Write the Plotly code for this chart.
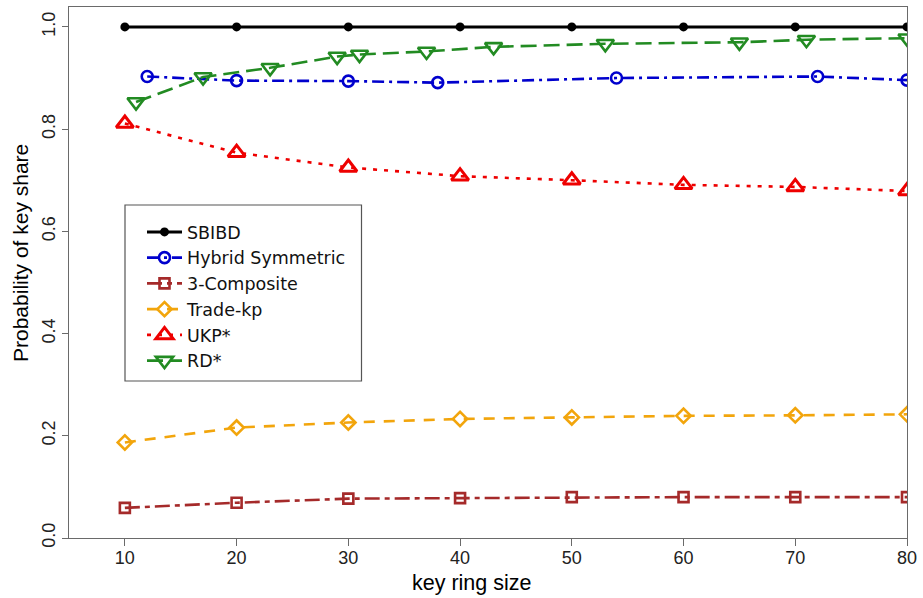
import plotly.graph_objects as go

# ---- data ----
key_ring_size = [10, 20, 30, 40, 50, 60, 70, 80]
sbibd = [1.0, 1.0, 1.0, 1.0, 1.0, 1.0, 1.0, 1.0]

hybrid_x = [12, 20, 30, 38, 54, 72, 80]
hybrid_y = [0.903, 0.895, 0.894, 0.891, 0.900, 0.903, 0.896]

composite3 = [0.059, 0.069, 0.077, 0.078, 0.080, 0.080, 0.080, 0.080]
trade_kp = [0.187, 0.216, 0.226, 0.233, 0.236, 0.239, 0.240, 0.242]
ukp = [0.811, 0.754, 0.725, 0.708, 0.700, 0.691, 0.687, 0.679]

rd_x = [11, 17, 23, 29, 31, 37, 43, 53, 65, 71, 80]
rd_y = [0.853, 0.902, 0.920, 0.942, 0.946, 0.952, 0.961, 0.967, 0.970, 0.975, 0.978]

x_ticks = [10, 20, 30, 40, 50, 60, 70, 80]
y_ticks = [0.0, 0.2, 0.4, 0.6, 0.8, 1.0]
y_tick_labels = ["0.0", "0.2", "0.4", "0.6", "0.8", "1.0"]

FONT = "Liberation Sans, Arial, sans-serif"
LEG_FONT = "DejaVu Sans, Verdana, sans-serif"
LW = 2.6

fig = go.Figure()

fig.add_trace(go.Scatter(
    x=key_ring_size, y=sbibd, name="SBIBD", mode="lines+markers",
    line=dict(color="black", width=LW + 0.4),
    marker=dict(symbol="circle", size=9, color="black")))

fig.add_trace(go.Scatter(
    x=hybrid_x, y=hybrid_y, name="Hybrid Symmetric", mode="lines+markers",
    line=dict(color="#0000CD", width=LW, dash="12px,5px,3px,5px"),
    marker=dict(symbol="circle-open", size=11, color="#0000CD",
                line=dict(width=2.6, color="#0000CD"))))

fig.add_trace(go.Scatter(
    x=key_ring_size, y=composite3, name="3-Composite", mode="lines+markers",
    line=dict(color="#A52A2A", width=LW, dash="15px,5px,5px,5px"),
    marker=dict(symbol="square-open", size=10, color="#A52A2A",
                line=dict(width=2.6, color="#A52A2A"))))

fig.add_trace(go.Scatter(
    x=key_ring_size, y=trade_kp, name="Trade-kp", mode="lines+markers",
    line=dict(color="#F2A50C", width=LW, dash="11px,9px"),
    marker=dict(symbol="diamond-open", size=11, color="#F2A50C",
                line=dict(width=2.6, color="#F2A50C"))))

fig.add_trace(go.Scatter(
    x=key_ring_size, y=ukp, name="UKP*", mode="lines+markers",
    line=dict(color="#EE0000", width=LW, dash="4px,7px"),
    marker=dict(symbol="triangle-up-open", size=15, color="#EE0000",
                line=dict(width=3, color="#EE0000"))))

fig.add_trace(go.Scatter(
    x=rd_x, y=rd_y, name="RD*", mode="lines+markers",
    line=dict(color="#228B22", width=LW, dash="16px,7px"),
    marker=dict(symbol="triangle-down-open", size=15, color="#228B22",
                line=dict(width=2.6, color="#228B22"))))

AX = "#6a6a6a"
fig.update_xaxes(
    range=[5, 80], tickmode="array", tickvals=x_ticks,
    showline=True, mirror=True, linecolor=AX, linewidth=1.3,
    ticks="outside", ticklen=7, tickwidth=1.3, tickcolor=AX,
    ticklabelstandoff=-4,
    showgrid=False, zeroline=False,
    tickfont=dict(family=FONT, size=18, color="#222"))
fig.update_yaxes(
    range=[0, 1.039], tickmode="array", tickvals=y_ticks, ticktext=y_tick_labels,
    tickangle=-90,
    showline=True, mirror=True, linecolor=AX, linewidth=1.3,
    ticks="outside", ticklen=6, tickwidth=1.3, tickcolor=AX,
    showgrid=False, zeroline=False,
    tickfont=dict(family=FONT, size=18, color="#222"))

W, H = 923, 598
L, R, T, B = 69, 16, 7, 60
pw, ph = W - L - R, H - T - B

def px(xp):
    return (xp - L) / pw

def py(yp):
    return (H - B - yp) / ph

fig.update_layout(
    width=W, height=H,
    margin=dict(l=L, r=R, t=T, b=B, autoexpand=False),
    paper_bgcolor="white", plot_bgcolor="white",
    font=dict(family=FONT, color="black"),
    legend=dict(x=px(142), y=py(214), xanchor="left", yanchor="top",
                bgcolor="rgba(0,0,0,0)", borderwidth=0,
                font=dict(family=LEG_FONT, size=17.5, color="#111"),
                itemwidth=35, tracegroupgap=0),
    shapes=[dict(type="rect", xref="paper", yref="paper",
                 x0=px(125), x1=px(361.5), y0=py(381), y1=py(205),
                 line=dict(color="#555", width=1.2), fillcolor="rgba(0,0,0,0)")],
    annotations=[
        dict(text="key ring size", xref="paper", yref="paper",
             x=px(472), y=py(583), xanchor="center", yanchor="middle",
             showarrow=False, font=dict(family=FONT, size=21.5, color="black")),
        dict(text="Probability of key share", xref="paper", yref="paper",
             x=px(21), y=py(253), xanchor="center", yanchor="middle",
             textangle=-90, showarrow=False,
             font=dict(family=FONT, size=21, color="black")),
    ],
)

fig.write_html("out.html")
